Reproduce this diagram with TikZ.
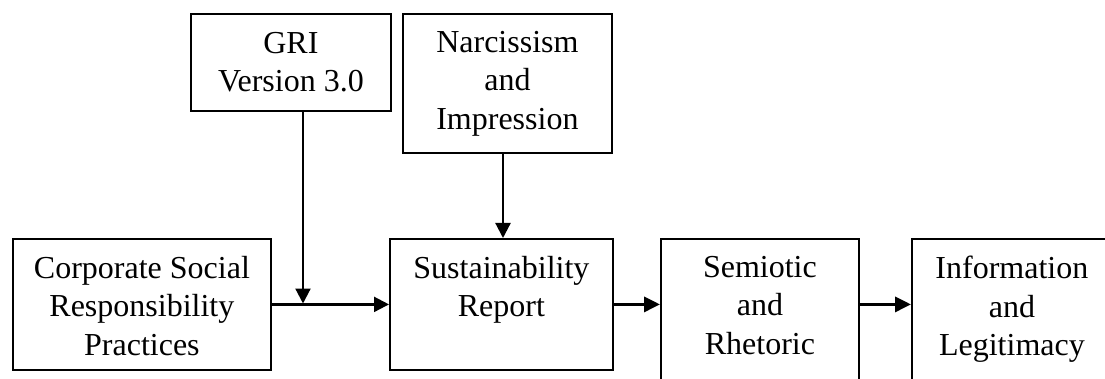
\documentclass[tikz,border=0pt]{standalone}
\usepackage{fontspec}
\setmainfont{Liberation Serif}
\usetikzlibrary{arrows.meta}
\tikzset{
  box/.style={draw, line width=1.8pt, inner sep=0pt, anchor=north west},
  lbl/.style={align=center, inner sep=0pt, font=\fontsize{32}{38.5}\selectfont},
  arr/.style={-{Triangle[length=15pt,width=15pt]}, line width=2.2pt},
  thickarr/.style={-{Triangle[length=16pt,width=15pt]}, line width=3.4pt}
}
\begin{document}
\begin{tikzpicture}[x=1pt,y=-1pt]
\useasboundingbox (0,0) rectangle (1105,379);
% boxes
\node[box, minimum width=200pt, minimum height=97pt] (gri) at (190,13) {};
\node[box, minimum width=209pt, minimum height=139pt] (narc) at (402,13) {};
\node[box, minimum width=258pt, minimum height=131pt] (csr) at (12,238) {};
\node[box, minimum width=223pt, minimum height=131pt] (sust) at (389,238) {};
\node[box, minimum width=198pt, minimum height=170pt] (sem) at (660,238) {};
\node[box, minimum width=215pt, minimum height=170pt] (info) at (911,238) {};
% labels
\node[lbl] (gritxt) at (gri.center) {GRI\\Version 3.0};
\node[lbl] (narctxt) at (narc.center) {Narcissism\\and\\Impression};
\node[lbl, anchor=north] (csrtxt) at (csr.north |- 0,256) {Corporate Social\\Responsibility\\Practices};
\node[lbl, anchor=north] (susttxt) at (sust.north |- 0,256) {Sustainability\\Report};
\node[lbl, anchor=north] (semtxt) at (sem.north |- 0,256) {Semiotic\\and\\Rhetoric};
\node[lbl, anchor=north] (infotxt) at ([xshift=-7.5pt]info.north |- 0,256) {Information\\and\\Legitimacy};
% connectors
\coordinate (j) at (303,303.5);
\coordinate (n) at (503,0);
\draw[arr] (csr.east) -- (sust.west);
\draw[arr] (gri.south -| j) -- (j);
\draw[arr] (narc.south -| n) -- (sust.north -| n);
\draw[thickarr] (sust.east) -- (sust.east -| sem.west);
\draw[thickarr] (sust.east -| sem.east) -- (sust.east -| info.west);
\end{tikzpicture}
\end{document}
